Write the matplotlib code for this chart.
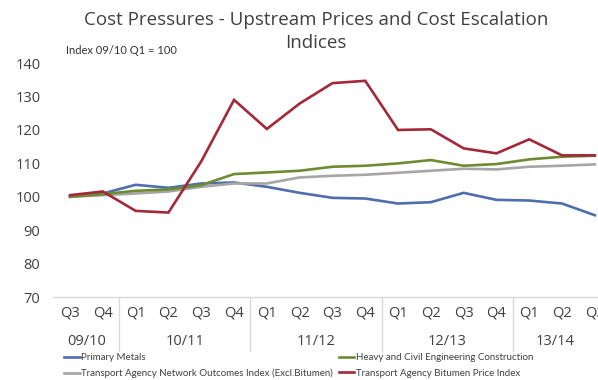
import matplotlib
matplotlib.use("Agg")
import matplotlib.pyplot as plt
import matplotlib.transforms as mtransforms

quarters = ["Q3", "Q4", "Q1", "Q2", "Q3", "Q4", "Q1", "Q2", "Q3", "Q4",
            "Q1", "Q2", "Q3", "Q4", "Q1", "Q2", "Q3"]
years = ["09/10", "10/11", "11/12", "12/13", "13/14"]
year_pos = [0.5, 3.5, 7.5, 11.5, 14.8]
separators = [1.5, 5.5, 9.5, 13.5]

primary_metals = [100.2, 101.0, 103.6, 102.7, 104.0, 104.3, 103.0, 101.2, 99.7, 99.5,
                  98.0, 98.4, 101.2, 99.1, 98.9, 98.0, 94.5]
heavy_civil = [100.0, 100.8, 101.8, 102.2, 103.5, 106.8, 107.3, 107.8, 109.0, 109.3,
               110.0, 111.0, 109.3, 109.8, 111.2, 112.0, 112.3]
network_outcomes = [100.0, 100.5, 101.0, 101.6, 103.0, 104.0, 104.0, 105.8, 106.3, 106.6,
                    107.2, 107.8, 108.4, 108.2, 109.0, 109.3, 109.7]
bitumen = [100.5, 101.6, 95.8, 95.3, 110.6, 129.0, 120.3, 127.9, 134.0, 134.7,
           120.0, 120.2, 114.5, 113.0, 117.2, 112.4, 112.4]

series = [
    ("Primary Metals", primary_metals, "#4E6EAD"),
    ("Transport Agency Network Outcomes Index (Excl.Bitumen)", network_outcomes, "#A6A6A6"),
    ("Heavy and Civil Engineering Construction", heavy_civil, "#6E8B32"),
    ("Transport Agency Bitumen Price Index", bitumen, "#A3293A"),
]

fig = plt.figure(figsize=(5.98, 3.8), dpi=100)
ax = fig.add_axes([0.0886, 0.218, 0.939, 0.616])

xs = list(range(len(quarters)))
for name, vals, col in series:
    ax.plot(xs, vals, color=col, lw=1.9, label=name, solid_joinstyle="miter")

ax.set_xlim(-0.52, 16.6)
ax.set_ylim(70, 140)
ax.set_yticks(range(70, 141, 10))
ax.set_xticks(xs)
ax.set_xticklabels(quarters)
for s in ["left", "top", "right"]:
    ax.spines[s].set_visible(False)
ax.spines["bottom"].set_color("#D9D9D9")
ax.spines["bottom"].set_linewidth(1.0)
ax.tick_params(axis="both", length=0, labelcolor="#404040")
ax.tick_params(axis="y", pad=9)
ax.tick_params(axis="x", pad=6)
for lab in ax.get_xticklabels() + ax.get_yticklabels():
    lab.set_fontfamily("Open Sans")
    lab.set_fontsize(10.5)

trans = mtransforms.blended_transform_factory(ax.transData, ax.transAxes)
for sx in separators:
    ax.plot([sx, sx], [0, -0.23], transform=trans, color="#D9D9D9", lw=1.0, clip_on=False)
for yp, yl in zip(year_pos, years):
    ax.text(yp, -0.19, yl, transform=trans, ha="center", va="center",
            fontfamily="Open Sans", fontsize=10.5, color="#404040")

# title on two lines, as in the original
fig.text(0.528, 0.947, "Cost Pressures - Upstream Prices and Cost Escalation",
         ha="center", va="center", fontfamily="Open Sans", fontsize=13.5, color="#404040")
fig.text(0.528, 0.887, "Indices",
         ha="center", va="center", fontfamily="Open Sans", fontsize=13.5, color="#404040")
fig.text(0.110, 0.868, "Index 09/10 Q1 = 100", ha="left", va="center",
         fontfamily="Lato", fontsize=8, color="#333333")

leg = fig.legend(loc="upper left", bbox_to_anchor=(0.107, 0.070), ncol=2, frameon=False,
                 prop={"family": "Lato", "size": 7.0}, handlelength=1.6, handletextpad=0.15,
                 columnspacing=0.6, labelspacing=0.65, borderaxespad=0, borderpad=0)
for t in leg.get_texts():
    t.set_color("#404040")

fig.savefig("out.png", dpi=100)
